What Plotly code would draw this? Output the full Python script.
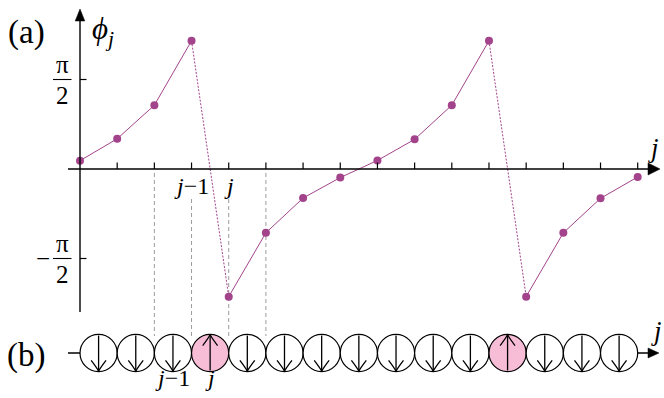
import plotly.graph_objects as go

# ---- data -------------------------------------------------------------
sites = list(range(16))
phi = [0.146, 0.53, 1.12, 2.25, -2.24, -1.12, -0.51, -0.15,
       0.15, 0.52, 1.12, 2.25, -2.24, -1.12, -0.515, -0.14]
spins = ["down", "down", "down", "up", "down", "down", "down", "down",
         "down", "down", "down", "up", "down", "down", "down"]
ytick_vals = [1.5707963, -1.5707963]
marked_ticks = [3, 4]           # tick labels j-1, j on the phase axis
marked_ticktext = ["<i>j</i>\u22121", "<i>j</i>"]
guide_sites = [2, 3, 4, 5]      # dashed guides down to the chain

# ---- geometry ----------------------------------------------------------
W, H = 664, 398
PXS = 37.18        # pixels per site
PXR = 56.98        # pixels per radian
X0 = 80            # pixel column of site 0
Y0 = 169           # pixel row of phi = 0
YC = 353           # pixel row of the chain

def X(px):
    return (px - X0) / PXS

def Y(py):
    return (Y0 - py) / PXR

def Y2(py):
    return (YC - py) / PXS

FONT = "Liberation Serif"
PURPLE = "#a2438b"
PINK = "#f7bdd7"
BLACK = "black"

fig = go.Figure()

# solid segments between neighbours, dotted across 2*pi jumps
sx, sy, dx, dy = [], [], [], []
for k in range(len(sites) - 1):
    seg_x = [sites[k], sites[k + 1], None]
    seg_y = [phi[k], phi[k + 1], None]
    if abs(phi[k + 1] - phi[k]) > 3.14159:
        dx += seg_x; dy += seg_y
    else:
        sx += seg_x; sy += seg_y

fig.add_trace(go.Scatter(x=dx, y=dy, mode="lines", hoverinfo="skip",
                         line=dict(color=PURPLE, width=1, dash="2px,1.5px")))
fig.add_trace(go.Scatter(x=sx, y=sy, mode="lines", hoverinfo="skip",
                         line=dict(color=PURPLE, width=1)))
fig.add_trace(go.Scatter(x=sites, y=phi, mode="markers", hoverinfo="skip",
                         marker=dict(color=PURPLE, size=8, line=dict(width=0))))

shapes = []

# dashed guide lines
for s in guide_sites:
    top = Y(199) if s in marked_ticks else Y(173)
    shapes.append(dict(type="line", xref="x", yref="y", x0=s, x1=s,
                       y0=top, y1=Y(336), layer="below",
                       line=dict(color="#9c9c9c", width=1, dash="4px,3px")))

# phase axes
shapes.append(dict(type="line", xref="x", yref="y", x0=X(68), x1=X(650),
                   y0=0, y1=0, line=dict(color=BLACK, width=1.4)))
shapes.append(dict(type="path", xref="x", yref="y",
                   path=f"M{X(660)},0 L{X(648)},{Y(Y0-6)} L{X(648)},{Y(Y0+6)} Z",
                   fillcolor=BLACK, line=dict(color=BLACK, width=0.5)))
shapes.append(dict(type="line", xref="x", yref="y", x0=0, x1=0,
                   y0=Y(312), y1=Y(19), line=dict(color=BLACK, width=1.4)))
shapes.append(dict(type="path", xref="x", yref="y",
                   path=f"M0,{Y(9)} L{X(75.2)},{Y(21)} L{X(84.8)},{Y(21)} Z",
                   fillcolor=BLACK, line=dict(color=BLACK, width=0.5)))
for s in sites[1:]:
    shapes.append(dict(type="line", xref="x", yref="y", x0=s, x1=s,
                       y0=0, y1=Y(Y0 - 6.5), line=dict(color=BLACK, width=1.2)))
for v in ytick_vals:
    shapes.append(dict(type="line", xref="x", yref="y", x0=0, x1=X(86.5),
                       y0=v, y1=v, line=dict(color=BLACK, width=1.2)))

# chain axis (kept under the site circles)
shapes.append(dict(type="line", xref="x", yref="y2", x0=X(68), x1=X(650),
                   y0=0, y1=0, layer="below", line=dict(color=BLACK, width=1.3)))
shapes.append(dict(type="path", xref="x", yref="y2",
                   path=f"M{X(659)},0 L{X(648)},{Y2(YC-5)} L{X(648)},{Y2(YC+5)} Z",
                   fillcolor=BLACK, line=dict(color=BLACK, width=0.5)))

# spin arrows inside the sites
for i, s in enumerate(spins):
    xc = i + 0.5
    sg = -1 if s == "down" else 1
    tip = 0.49 * sg
    tail = -0.47 * sg
    shapes.append(dict(type="line", xref="x", yref="y2", x0=xc, x1=xc,
                       y0=tail, y1=tip, line=dict(color=BLACK, width=1.3)))
    for side in (-1, 1):
        bx, by = xc + side * 0.2, tip - sg * 0.29
        cx, cy = xc + side * 0.04, tip - sg * 0.08
        shapes.append(dict(type="path", xref="x", yref="y2",
                           path=f"M{xc},{tip} Q{cx},{cy} {bx},{by}",
                           line=dict(color=BLACK, width=1.3)))

# sites of the chain
fig.add_trace(go.Scatter(
    x=[i + 0.5 for i in range(len(spins))], y=[0] * len(spins), yaxis="y2",
    mode="markers", hoverinfo="skip",
    marker=dict(symbol="circle", size=2 * PXS * 0.5,
                color=[PINK if s == "up" else "white" for s in spins],
                line=dict(color=BLACK, width=1.2))))

# ---- text --------------------------------------------------------------
ann = []

def txt(text, x, y, size, xref="paper", yref="paper", xanchor="center",
        yanchor="middle"):
    ann.append(dict(text=text, x=x, y=y, xref=xref, yref=yref, showarrow=False,
                    font=dict(family=FONT, size=size, color=BLACK),
                    xanchor=xanchor, yanchor=yanchor, borderpad=0))

txt("(a)", 26 / W, 1 - 33 / H, 33)
txt("(b)", 26 / W, 1 - 355 / H, 33)
txt("<i>\u03d5</i><sub><i>j</i></sub>", X(103), Y(31), 31, "x", "y")
txt("<i>j</i>", X(653), Y(148), 27, "x", "y")
txt("<i>j</i>", X(656), Y2(331), 27, "x", "y2")

for t, lab in zip(marked_ticks, marked_ticktext):
    txt(lab, t, Y(186), 24, "x", "y")
    txt(lab, t - 0.5, Y2(378), 24, "x", "y2")

# pi/2 fractions
for v in ytick_vals:
    py = Y0 - v * PXR
    txt("\u03c0", X(62), Y(py - 1), 25, "x", "y", yanchor="bottom")
    txt("2", X(62), Y(py + 1), 25, "x", "y", yanchor="top")
    shapes.append(dict(type="line", xref="x", yref="y", x0=X(53), x1=X(71.5),
                       y0=v, y1=v, line=dict(color=BLACK, width=1.1)))
    if v < 0:
        txt("\u2212", X(43), Y(py), 25, "x", "y")

fig.update_layout(
    width=W, height=H, autosize=False,
    margin=dict(l=0, r=0, t=0, b=0),
    paper_bgcolor="white", plot_bgcolor="white",
    showlegend=False,
    xaxis=dict(range=[X(0), X(W)], visible=False, fixedrange=True),
    yaxis=dict(range=[Y(H), Y(0)], visible=False, fixedrange=True),
    yaxis2=dict(range=[Y2(H), Y2(0)], overlaying="y", visible=False,
                fixedrange=True),
    shapes=shapes, annotations=ann,
)

fig.write_html("out.html")
